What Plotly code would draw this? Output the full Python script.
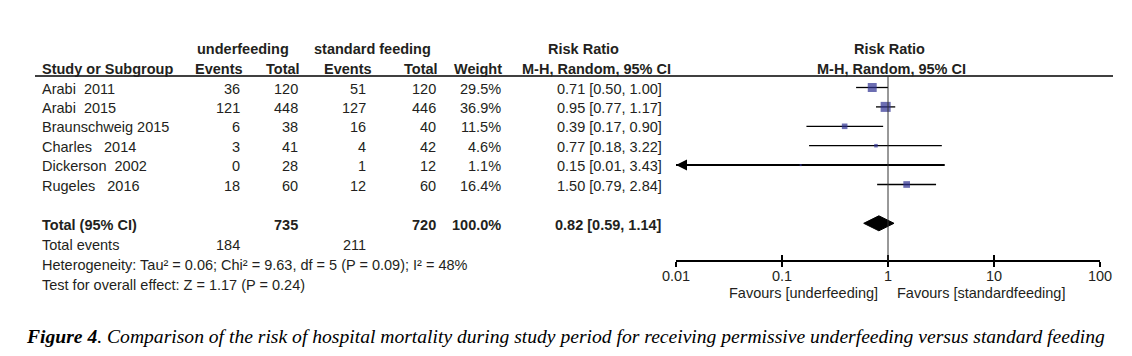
import plotly.graph_objects as go
import numpy as np

W, H = 1132, 356

# ---------------- data ----------------
studies = ["Arabi\u00a0\u00a02011", "Arabi\u00a0\u00a02015", "Braunschweig 2015",
           "Charles\u00a0\u00a0\u00a02014", "Dickerson\u00a0\u00a02002", "Rugeles\u00a0\u00a0\u00a02016"]
under_events = [36, 121, 6, 3, 0, 18]
under_total = [120, 448, 38, 41, 28, 60]
std_events = [51, 127, 16, 4, 1, 12]
std_total = [120, 446, 40, 42, 12, 60]
weights = [29.5, 36.9, 11.5, 4.6, 1.1, 16.4]
rr = [0.71, 0.95, 0.39, 0.77, 0.15, 1.50]
ci_low = [0.50, 0.77, 0.17, 0.18, 0.01, 0.79]
ci_high = [1.00, 1.17, 0.90, 3.22, 3.43, 2.84]
total_rr, total_lo, total_hi = 0.82, 0.59, 1.14
total_under, total_std = 735, 720
events_under, events_std = 184, 211
tick_vals = [0.01, 0.1, 1, 10, 100]
tick_text = ["0.01", "0.1", "1", "10", "100"]
heterogeneity = "Heterogeneity: Tau\u00b2 = 0.06; Chi\u00b2 = 9.63, df = 5 (P = 0.09); I\u00b2 = 48%"
overall = "Test for overall effect: Z = 1.17 (P = 0.24)"
caption = ("<b><i>Figure 4</i></b><i>. Comparison of the risk of hospital mortality during study "
           "period for receiving permissive underfeeding versus standard feeding</i>")

# ---------------- layout helpers ----------------
TXT = "#231f20"
MARK = "#2e3192"
FONT = "Liberation Sans, Arial, sans-serif"
FS = 14.5

def px(x):
    return x / W

ROW0, ROWSTEP = 87.5, 19.4
row_y = [ROW0 + i * ROWSTEP for i in range(len(studies))]
total_y = ROW0 + 7 * ROWSTEP
TEXT_DY = 1
AXIS_Y = 261

fig = go.Figure()

# CI lines
for i in range(len(studies)):
    fig.add_trace(go.Scatter(x=[ci_low[i], ci_high[i]], y=[row_y[i], row_y[i]], mode="lines",
                             line=dict(color="black", width=2 if ci_low[i] <= tick_vals[0] else 1.3),
                             hoverinfo="skip", showlegend=False))
# squares
sizes = [max(2, 1.65 * np.sqrt(w)) for w in weights]
fig.add_trace(go.Scatter(x=rr, y=row_y, mode="markers",
                         marker=dict(symbol="square", size=sizes, color=MARK, line=dict(width=0)),
                         showlegend=False, hoverinfo="skip"))
# diamond
fig.add_trace(go.Scatter(x=[total_lo, total_rr, total_hi, total_rr, total_lo],
                         y=[total_y, total_y - 7.5, total_y, total_y + 7.5, total_y],
                         mode="lines", fill="toself", fillcolor="black",
                         line=dict(color="black", width=1), showlegend=False, hoverinfo="skip"))

ann = []
def T(x, y, text, anchor="left", bold=False, size=FS, color=TXT, fam=FONT):
    if bold:
        text = "<b>" + text + "</b>"
    ann.append(dict(x=px(x), y=y, xref="paper", yref="y", text=text, showarrow=False,
                    xanchor=anchor, yanchor="middle", font=dict(family=fam, size=size, color=color)))

# headers
T(243, 49, "underfeeding", "center", True)
T(372, 49, "standard feeding", "center", True)
T(583, 49, "Risk Ratio", "center", True)
T(889, 49, "Risk Ratio", "center", True)
T(40, 69, "Study or Subgroup", "left", True)
T(245, 69, "Events", "right", True)
T(302, 69, "Total", "right", True)
T(374, 69, "Events", "right", True)
T(440, 69, "Total", "right", True)
T(504, 69, "Weight", "right", True)
T(596, 69, "M-H, Random, 95% CI", "center", True)
T(891, 69, "M-H, Random, 95% CI", "center", True)

for i, s in enumerate(studies):
    y = row_y[i] + TEXT_DY
    T(40, y, s)
    T(242, y, str(under_events[i]), "right")
    T(300, y, str(under_total[i]), "right")
    T(368, y, str(std_events[i]), "right")
    T(438, y, str(std_total[i]), "right")
    T(503, y, f"{weights[i]:.1f}%", "right")
    T(664, y, f"{rr[i]:.2f} [{ci_low[i]:.2f}, {ci_high[i]:.2f}]", "right")

ty = total_y + TEXT_DY + 1
T(40, ty, "Total (95% CI)", "left", True)
T(300, ty, str(total_under), "right", True)
T(438, ty, str(total_std), "right", True)
T(503, ty, f"{sum(weights):.1f}%", "right", True)
T(664, ty, f"{total_rr:.2f} [{total_lo:.2f}, {total_hi:.2f}]", "right", True)
T(40, 245, "Total events")
T(242, 245, str(events_under), "right")
T(368, 245, str(events_std), "right")
T(40, 265, heterogeneity)
T(40, 285, overall)
T(880, 293, "Favours [underfeeding]", "right")
T(895, 293, "Favours [standardfeeding]", "left")
T(24, 336, caption, "left", False, 19.6, "#000", "Liberation Serif, Times New Roman, serif")

# Dickerson arrow (CI extends past axis minimum)
for i in range(len(studies)):
    if ci_low[i] <= tick_vals[0]:
        ann.append(dict(x=np.log10(tick_vals[0]), y=row_y[i], xref="x", yref="y", ax=14, ay=0,
                        axref="pixel", ayref="pixel", showarrow=True, arrowhead=2, arrowsize=1.1,
                        arrowwidth=2, arrowcolor="black", text=""))

shapes = [
    dict(type="line", xref="paper", yref="y", x0=px(35), x1=px(1113), y0=76, y1=76,
         line=dict(color="black", width=1.5)),
    dict(type="line", xref="x", yref="y", x0=1, x1=1, y0=76, y1=AXIS_Y,
         line=dict(color="#333", width=1)),
]

xdom = [px(676), px(1100)]
axis_pos = 1 - AXIS_Y / H
common = dict(type="log", range=[np.log10(tick_vals[0]), np.log10(tick_vals[-1])], domain=xdom,
              anchor="free", position=axis_pos, showgrid=False, zeroline=False,
              tickvals=tick_vals, ticktext=tick_text, showline=True, linecolor="black",
              linewidth=1.5, tickcolor="black", tickwidth=1.5, ticklen=5)

fig.update_layout(
    width=W, height=H, margin=dict(l=0, r=0, t=0, b=0, autoexpand=False),
    paper_bgcolor="white", plot_bgcolor="white",
    xaxis=dict(**common, ticks="outside", showticklabels=True, ticklabelstandoff=-3,
               tickfont=dict(family=FONT, size=FS, color=TXT)),
    xaxis2=dict(**common, ticks="inside", showticklabels=False, overlaying="x"),
    yaxis=dict(range=[H, 0], domain=[0, 1], visible=False, fixedrange=True),
    annotations=ann, shapes=shapes, showlegend=False,
)
# invisible trace to activate xaxis2
fig.add_trace(go.Scatter(x=[1], y=[AXIS_Y], xaxis="x2", mode="markers", marker=dict(opacity=0),
                         showlegend=False, hoverinfo="skip"))

fig.write_html("out.html", config={"displayModeBar": False},
               post_script="document.body.style.margin='0';document.body.style.overflow='hidden';")
